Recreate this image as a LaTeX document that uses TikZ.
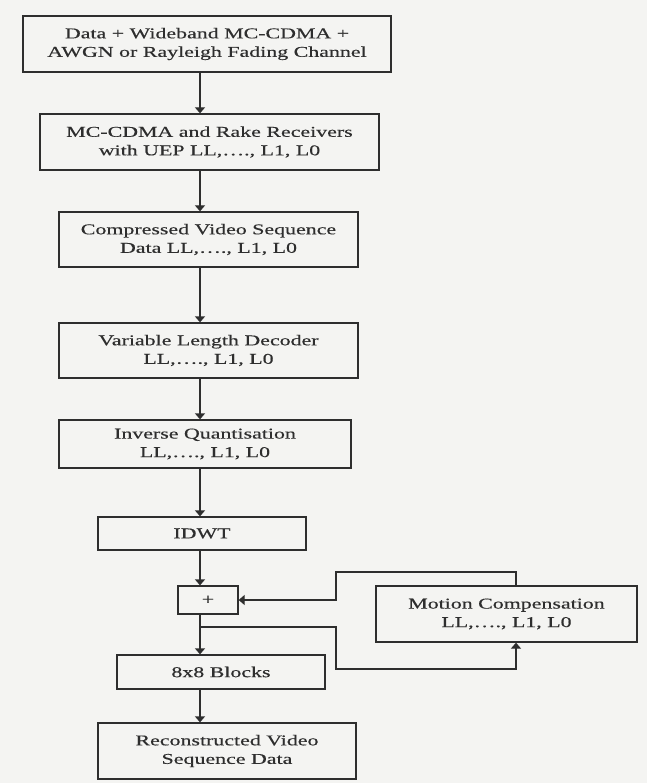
\documentclass[tikz,border=0pt]{standalone}
\usepackage{fontspec}
\setmainfont{Liberation Serif}[FakeStretch=1.46,FakeBold=0.4]
\definecolor{ink}{HTML}{2E2E2E}
\definecolor{paper}{HTML}{F4F4F2}
\usepackage{tikz}
\usetikzlibrary{arrows.meta, positioning, calc}
\tikzset{
  box/.style={draw=ink, fill=paper, line width=1.3pt, align=center, inner sep=0pt,
              text=ink, font=\fontsize{15}{18.5}\selectfont},
  flow/.style={-{Triangle[length=6pt,width=10pt]}, line width=1.3pt, color=ink},
}

\begin{document}
\begin{tikzpicture}[x=1pt,y=-1pt,
        bx/.style={box,minimum width=#1},
        hgt/.style={minimum height=#1}]
        \fill[paper] (0,0) rectangle (647,783);
        \useasboundingbox (0,0) rectangle (647,783);
        % main column
        \node[bx=368pt,hgt=56pt] (chan) at (207,44) {Data + Wideband MC-CDMA +\\AWGN or Rayleigh Fading Channel};
        \node[bx=339pt,hgt=56pt] (rake) at (209.5,142) {MC-CDMA and Rake Receivers\\with UEP LL,…., L1, L0};
        \node[bx=299pt,hgt=55pt] (comp) at (208.5,239.5) {Compressed Video Sequence\\Data LL,…., L1, L0};
        \node[bx=299pt,hgt=55pt] (vld) at (208.5,350.5) {Variable Length Decoder\\LL,…., L1, L0};
        \node[bx=292pt,hgt=48pt] (iq) at (205,444) {Inverse Quantisation\\LL,…., L1, L0};
        \node[bx=208pt,hgt=33pt] (idwt) at (202,533.5) {IDWT};
        \node[bx=60pt,hgt=28pt] (plus) at (208,600) {+};
        \node[bx=261pt,hgt=56pt] (mc) at (506.5,614) {Motion Compensation\\LL,…., L1, L0};
        \node[bx=208pt,hgt=34pt] (blk) at (221,672) {8x8 Blocks};
        \node[bx=258pt,hgt=56pt] (rec) at (227,751) {Reconstructed Video\\Sequence Data};
        % helper lines
        \coordinate (ax) at (200,0);
        \coordinate (fb) at (516,0);
        \coordinate (loop) at (336,0);
        \coordinate (top) at (0,572);
        \coordinate (bot) at (0,669);
        \coordinate (split) at (200,627);
        \draw[flow] (chan.south -| ax)--(rake.north -| ax);
        \draw[flow] (rake.south -| ax)--(comp.north -| ax);
        \draw[flow] (comp.south -| ax)--(vld.north -| ax);
        \draw[flow] (vld.south -| ax)--(iq.north -| ax);
        \draw[flow] (iq.south -| ax)--(idwt.north -| ax);
        \draw[flow] (idwt.south -| ax)--(plus.north -| ax);
        \draw[flow] (plus.south -| ax)--(blk.north -| ax);
        \draw[flow] (blk.south -| ax)--(rec.north -| ax);
        \draw[flow] (mc.north -| fb)--(fb |- top) -| (loop |- plus.east)--(plus.east);
        \draw[flow] (split) -| (loop |- bot) -| (mc.south -| fb);
      \end{tikzpicture}
\end{document}
